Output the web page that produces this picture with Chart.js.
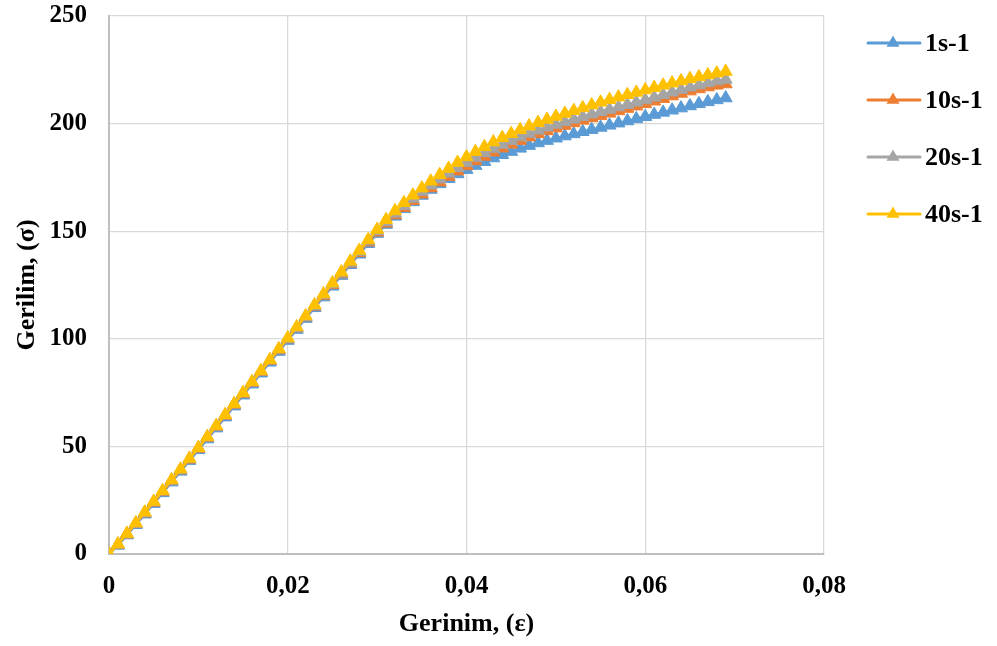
<!DOCTYPE html>
<html>
<head>
<meta charset="utf-8">
<script src="https://cdn.jsdelivr.net/npm/chart.js@4.4.1/dist/chart.umd.min.js"></script>
<style>
  html, body { margin: 0; padding: 0; background: #fff; }
  #wrap { width: 997px; height: 646px; }
</style>
</head>
<body>
<div id="wrap"><canvas id="grafik" width="997" height="646"></canvas></div>
<script>
// birim şekil değiştirme (ε)
var strain = [
  0.000, 0.001, 0.002, 0.003, 0.004, 0.005, 0.006, 0.007, 0.008, 0.009,
  0.010, 0.011, 0.012, 0.013, 0.014, 0.015, 0.016, 0.017, 0.018, 0.019,
  0.020, 0.021, 0.022, 0.023, 0.024, 0.025, 0.026, 0.027, 0.028, 0.029,
  0.030, 0.031, 0.032, 0.033, 0.034, 0.035, 0.036, 0.037, 0.038, 0.039,
  0.040, 0.041, 0.042, 0.043, 0.044, 0.045, 0.046, 0.047, 0.048, 0.049,
  0.050, 0.051, 0.052, 0.053, 0.054, 0.055, 0.056, 0.057, 0.058, 0.059,
  0.060, 0.061, 0.062, 0.063, 0.064, 0.065, 0.066, 0.067, 0.068, 0.069
];

// gerilim (σ) - hız 1 s-1
var stress1 = [
  0, 4.0, 8.8, 13.6, 18.5, 23.4, 28.4, 33.4, 38.4, 43.4,
  48.4, 53.4, 58.5, 63.6, 68.7, 73.8, 78.9, 84.0, 89.1, 94.1,
  99.2, 104.3, 109.4, 114.4, 119.4, 124.4, 129.4, 134.4, 139.3, 144.2,
  148.9, 153.1, 156.9, 160.4, 163.6, 166.6, 169.4, 172.0, 174.4, 176.6,
  178.6, 180.5, 182.3, 184.0, 185.5, 187.0, 188.5, 189.8, 191.0, 192.1,
  193.2, 194.2, 195.2, 196.2, 197.2, 198.2, 199.2, 200.2, 201.2, 202.2,
  203.2, 204.2, 205.2, 206.2, 207.2, 208.2, 209.2, 210.1, 211.0, 211.9
];
// hız 10 s-1
var stress10 = [
  0, 4.4, 9.2, 14.1, 19.0, 24.0, 29.0, 34.0, 39.0, 44.0,
  49.0, 54.1, 59.2, 64.3, 69.4, 74.5, 79.6, 84.7, 89.8, 94.8,
  99.9, 105.0, 110.1, 115.1, 120.1, 125.1, 130.1, 135.1, 140.0, 144.9,
  149.5, 153.7, 157.5, 161.0, 164.2, 167.2, 170.1, 172.8, 175.4, 177.9,
  180.3, 182.6, 184.7, 186.7, 188.6, 190.4, 192.1, 193.7, 195.2, 196.6,
  197.9, 199.1, 200.3, 201.5, 202.6, 203.7, 204.8, 205.9, 207.0, 208.1,
  209.2, 210.4, 211.6, 212.8, 214.0, 215.1, 216.1, 217.0, 217.8, 218.4
];
// hız 20 s-1
var stress20 = [
  0, 4.5, 9.3, 14.2, 19.2, 24.2, 29.2, 34.2, 39.2, 44.2,
  49.2, 54.3, 59.4, 64.5, 69.6, 74.7, 79.8, 84.9, 90.0, 95.1,
  100.1, 105.2, 110.3, 115.4, 120.5, 125.5, 130.5, 135.5, 140.5, 145.4,
  150.1, 154.4, 158.3, 161.9, 165.2, 168.4, 171.4, 174.2, 176.9, 179.5,
  181.9, 184.2, 186.4, 188.4, 190.3, 192.1, 193.8, 195.4, 196.9, 198.3,
  199.6, 200.8, 202.0, 203.2, 204.4, 205.5, 206.6, 207.7, 208.8, 209.9,
  211.0, 212.2, 213.4, 214.6, 215.8, 216.9, 217.9, 218.9, 219.8, 220.5
];
// hız 40 s-1
var stress40 = [
  0, 4.6, 9.5, 14.4, 19.4, 24.4, 29.4, 34.4, 39.4, 44.4,
  49.4, 54.5, 59.6, 64.7, 69.8, 74.9, 80.0, 85.1, 90.2, 95.3,
  100.4, 105.5, 110.6, 115.7, 120.8, 125.9, 131.0, 136.0, 141.0, 146.0,
  150.8, 155.3, 159.4, 163.2, 166.7, 170.0, 173.2, 176.2, 179.1, 181.9,
  184.5, 186.9, 189.2, 191.4, 193.4, 195.3, 197.1, 198.8, 200.4, 201.9,
  203.3, 204.7, 206.0, 207.3, 208.6, 209.9, 211.1, 212.3, 213.4, 214.5,
  215.6, 216.7, 217.8, 218.8, 219.8, 220.8, 221.7, 222.6, 223.4, 224.2
];

var seriesNames = ["1s-1", "10s-1", "20s-1", "40s-1"];
var seriesColors = ["#5B9BD5", "#ED7D31", "#A5A5A5", "#FFC000"];
var xTickLabels = ["0", "0,02", "0,04", "0,06", "0,08"];
var yTickLabels = ["0", "50", "100", "150", "200", "250"];

var FONT = "'Liberation Serif', 'Times New Roman', serif";

// (x, y) çiftleri
function toPoints(values){
    var pts = [];
    for(var i=0;i<values.length;++i){
        pts.push({x: strain[i], y: values[i]});
    }
    return pts;
}

function makeSet(idx, values){
    return {
        label: seriesNames[idx],
        data: toPoints(values),
        borderColor: seriesColors[idx],
        backgroundColor: seriesColors[idx],
        borderWidth: 2.5,
        pointStyle: 'triangle',
        pointRadius: 7.5,
        pointBorderWidth: 1,
        pointBackgroundColor: seriesColors[idx],
        pointBorderColor: seriesColors[idx],
        tension: 0,
        // sarı en üstte kalsın
        order: 4 - idx
    };
}

// sağdaki açıklama kutusu
var sideLegend = {
    id: 'sideLegend',
    afterDraw: function(chart){
        var ctx = chart.ctx;
        var rows = [43, 100, 157, 214];
        ctx.save();
        for(var i=0;i<seriesNames.length;++i){
            var y = rows[i];
            ctx.strokeStyle = seriesColors[i];
            ctx.lineWidth = 3;
            ctx.lineCap = 'round';
            ctx.beginPath();
            ctx.moveTo(868, y);
            ctx.lineTo(920, y);
            ctx.stroke();
            // üçgen işaret
            var r = 7.5;
            ctx.fillStyle = seriesColors[i];
            ctx.beginPath();
            ctx.moveTo(893, y - r);
            ctx.lineTo(893 + r * 0.866, y + r * 0.5);
            ctx.lineTo(893 - r * 0.866, y + r * 0.5);
            ctx.closePath();
            ctx.fill();
            ctx.fillStyle = '#000';
            ctx.font = "bold 26px " + FONT;
            ctx.textAlign = 'left';
            ctx.textBaseline = 'middle';
            ctx.fillText(seriesNames[i], 925, y + 1);
        }
        ctx.restore();
    }
};

var ctx1 = document.getElementById("grafik");

var grafik = new Chart(ctx1, {
    type: 'line',
    data: {
        datasets: [
            makeSet(0, stress1),
            makeSet(1, stress10),
            makeSet(2, stress20),
            makeSet(3, stress40)
        ]
    },
    options: {
        responsive: false,
        animation: false,
        layout: {
            padding: {top: 16, right: 173, left: 0, bottom: 0}
        },
        plugins: {
            legend: {display: false},
            tooltip: {enabled: false}
        },
        scales: {
            x: {
                type: 'linear',
                min: 0,
                max: 0.08,
                ticks: {
                    stepSize: 0.02,
                    padding: 18,
                    color: '#000',
                    font: {family: FONT, size: 25, weight: 'bold'},
                    callback: function(v, i){ return xTickLabels[i]; }
                },
                grid: {color: '#d9d9d9', lineWidth: 1.3, drawTicks: false},
                border: {color: '#bfbfbf', width: 2},
                title: {
                    display: true,
                    text: 'Gerinim, (ε)',
                    color: '#000',
                    font: {family: FONT, size: 26, weight: 'bold'},
                    padding: {top: 0, bottom: 6}
                },
                afterFit: function(scale){
                    scale.height = 92;
                    scale.paddingLeft = 0;
                    scale.paddingRight = 0;
                }
            },
            y: {
                min: 0,
                max: 250,
                ticks: {
                    stepSize: 50,
                    padding: 22,
                    color: '#000',
                    font: {family: FONT, size: 25, weight: 'bold'},
                    callback: function(v, i){ return yTickLabels[i]; }
                },
                grid: {color: '#d9d9d9', lineWidth: 1.3, drawTicks: false},
                border: {color: '#bfbfbf', width: 2},
                title: {
                    display: true,
                    text: 'Gerilim, (σ)',
                    color: '#000',
                    font: {family: FONT, size: 26, weight: 'bold'},
                    padding: {top: 12, bottom: 0}
                },
                afterFit: function(scale){
                    scale.width = 109;
                    scale.paddingTop = 0;
                    scale.paddingBottom = 0;
                }
            }
        }
    },
    plugins: [sideLegend]
});
</script>
</body>
</html>
